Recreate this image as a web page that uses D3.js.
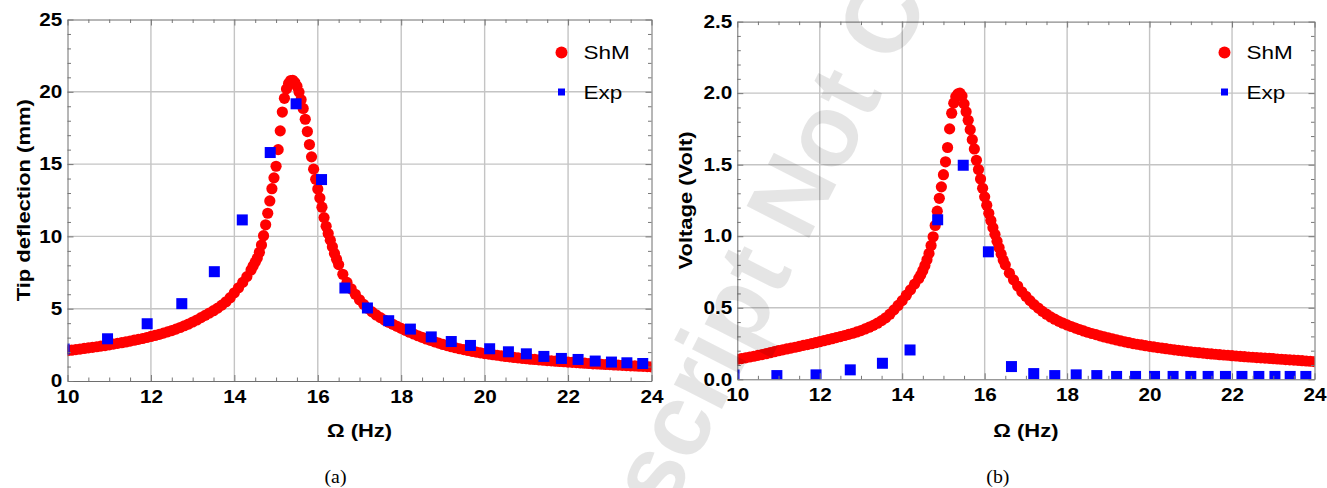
<!DOCTYPE html>
<html>
<head>
<meta charset="utf-8">
<script src="https://cdn.jsdelivr.net/npm/d3@7"></script>
<style>
  html, body { margin: 0; padding: 0; background: #fff; }
  svg { display: block; }
</style>
</head>
<body>
<svg id="chart" width="1327" height="488"></svg>
<script>
// Excitation frequencies (Hz) of the model curve
const shmFreq = [
  10.0,10.1,10.2,10.3,10.4,10.5,10.6,10.7,10.8,10.9,
  11.0,11.1,11.2,11.3,11.4,11.5,11.6,11.7,11.8,11.9,
  12.0,12.1,12.2,12.3,12.4,12.5,12.6,12.7,12.8,12.9,
  13.0,13.1,13.2,13.3,13.4,13.5,13.6,13.7,13.8,13.9,
  14.0,14.1,14.2,14.3,14.4,
  14.45,14.5,14.55,14.6,14.65,14.7,14.75,14.8,14.85,14.9,
  14.95,15.0,15.05,15.1,15.15,15.2,15.25,15.3,15.35,15.4,
  15.45,15.5,15.55,15.6,15.65,15.7,15.75,15.8,15.85,15.9,
  15.95,16.0,16.05,16.1,16.15,16.2,16.25,16.3,16.35,16.4,
  16.45,16.5,
  16.6,16.7,16.8,16.9,
  17.0,17.1,17.2,17.3,17.4,17.5,17.6,17.7,17.8,17.9,
  18.0,18.1,18.2,18.3,18.4,18.5,18.6,18.7,18.8,18.9,
  19.0,19.1,19.2,19.3,19.4,19.5,19.6,19.7,19.8,19.9,
  20.0,20.1,20.2,20.3,20.4,20.5,20.6,20.7,20.8,20.9,
  21.0,21.1,21.2,21.3,21.4,21.5,21.6,21.7,21.8,21.9,
  22.0,22.1,22.2,22.3,22.4,22.5,22.6,22.7,22.8,22.9,
  23.0,23.1,23.2,23.3,23.4,23.5,23.6,23.7,23.8,23.9,
  24.0
];

// ShM model: tip deflection (mm)
const shmTip = [
  2.10,2.13,2.17,2.21,2.25,2.29,2.33,2.37,2.41,2.45,
  2.50,2.55,2.60,2.65,2.70,2.76,2.82,2.88,2.94,3.01,
  3.08,3.15,3.23,3.31,3.40,3.49,3.59,3.70,3.82,3.94,
  4.08,4.22,4.38,4.54,4.70,4.86,5.04,5.25,5.48,5.76,
  6.10,6.45,6.82,7.22,7.68,
  7.95,8.22,8.50,8.90,9.40,10.05,10.80,11.60,12.45,13.30,
  14.05,14.85,16.00,17.30,18.60,19.55,20.20,20.58,20.78,20.80,
  20.64,20.38,19.98,19.45,18.85,18.10,17.25,16.35,15.50,14.65,
  13.95,13.28,12.65,12.02,11.30,10.70,10.20,9.74,9.28,8.82,
  8.42,8.05,
  7.38,6.82,6.38,6.00,
  5.62,5.30,5.02,4.78,4.57,4.38,4.21,4.06,3.92,3.78,
  3.64,3.50,3.37,3.25,3.13,3.02,2.91,2.81,2.71,2.62,
  2.53,2.45,2.37,2.30,2.23,2.17,2.11,2.05,2.00,1.95,
  1.90,1.86,1.82,1.78,1.74,1.70,1.67,1.63,1.60,1.57,
  1.54,1.51,1.49,1.46,1.44,1.41,1.39,1.37,1.35,1.33,
  1.31,1.29,1.27,1.25,1.23,1.21,1.19,1.18,1.16,1.14,
  1.13,1.11,1.10,1.08,1.07,1.05,1.04,1.02,1.01,1.00,
  0.98
];

// ShM model: output voltage (V)
const shmVolt = [
  0.140,0.145,0.150,0.156,0.161,0.167,0.173,0.179,0.186,0.193,
  0.200,0.206,0.212,0.218,0.224,0.230,0.237,0.243,0.249,0.256,
  0.263,0.270,0.277,0.284,0.291,0.298,0.306,0.314,0.322,0.331,
  0.340,0.352,0.364,0.377,0.392,0.410,0.430,0.455,0.485,0.516,
  0.550,0.588,0.625,0.665,0.705,
  0.730,0.760,0.795,0.835,0.880,0.935,0.996,1.075,1.175,1.265,
  1.345,1.430,1.520,1.620,1.750,1.860,1.930,1.975,1.995,2.000,
  1.980,1.925,1.870,1.810,1.745,1.675,1.610,1.531,1.466,1.400,
  1.335,1.275,1.217,1.160,1.110,1.060,1.013,0.965,0.920,0.875,
  0.833,0.800,
  0.742,0.695,0.652,0.612,
  0.580,0.550,0.522,0.498,0.475,0.455,0.436,0.420,0.405,0.392,
  0.380,0.369,0.358,0.348,0.338,0.329,0.320,0.312,0.304,0.296,
  0.289,0.282,0.275,0.268,0.262,0.256,0.250,0.245,0.240,0.235,
  0.230,0.226,0.222,0.218,0.214,0.210,0.206,0.202,0.199,0.196,
  0.192,0.189,0.186,0.183,0.180,0.177,0.175,0.172,0.170,0.168,
  0.165,0.163,0.160,0.158,0.156,0.154,0.152,0.150,0.148,0.146,
  0.144,0.142,0.140,0.138,0.136,0.134,0.132,0.130,0.128,0.126,
  0.124
];

// Measured frequencies (Hz)
const expFreq = [9.92, 10.96, 11.91, 12.74, 13.52, 14.19, 14.86, 15.48, 16.09, 16.65,
  17.19, 17.70, 18.22, 18.72, 19.20, 19.66, 20.12, 20.57, 21.00, 21.42,
  21.84, 22.24, 22.65, 23.04, 23.41, 23.79];
// Measured tip deflection (mm)
const expTip = [2.21, 2.92, 3.96, 5.35, 7.56, 11.14, 15.80, 19.17, 13.93, 6.43,
  5.05, 4.17, 3.59, 3.05, 2.73, 2.46, 2.23, 2.02, 1.88, 1.70,
  1.56, 1.49, 1.38, 1.31, 1.26, 1.21];
// Measured voltage (V)
const expVolt = [0.030, 0.026, 0.031, 0.066, 0.112, 0.205, 1.115, 1.496, 0.891, 0.089,
  0.040, 0.026, 0.031, 0.026, 0.020, 0.020, 0.020, 0.020, 0.020, 0.020,
  0.020, 0.020, 0.020, 0.020, 0.020, 0.020];

// Axis tick values
const xTicks = [10, 12, 14, 16, 18, 20, 22, 24];
const tipTicks = [0, 5, 10, 15, 20, 25];
const voltTicks = [0, 0.5, 1.0, 1.5, 2.0, 2.5];
const legendLabels = ["ShM", "Exp"];

const svg = d3.select("#chart");
const FONT = "'Liberation Sans', Arial, Helvetica, sans-serif";
const SERIF = "'Liberation Serif', 'Times New Roman', serif";

const panels = [
  {
    key: "a", box: { left: 67.5, right: 651.5, top: 19.5, bottom: 381 },
    yDomain: [0, 25], yTicks: tipTicks, yMinor: 1, yFmt: d3.format("d"),
    yTitle: "Tip deflection (mm)", yTitleX: 29.5,
    shm: shmTip, exp: expTip, caption: "(a)"
  },
  {
    key: "b", box: { left: 737.3, right: 1314.5, top: 21.6, bottom: 379.3 },
    yDomain: [0, 2.5], yTicks: voltTicks, yMinor: 0.1, yFmt: d3.format(".1f"),
    yTitle: "Voltage (Volt)", yTitleX: 692,
    shm: shmVolt, exp: expVolt, caption: "(b)"
  }
];

function stretchedText(g, x, y, txt, opts) {
  const o = Object.assign({ size: 18, weight: "bold", sx: 1.15, rot: 0, anchor: "middle", family: FONT }, opts || {});
  return g.append("text")
    .attr("transform", `translate(${x},${y}) rotate(${o.rot}) scale(${o.sx},1)`)
    .attr("text-anchor", o.anchor)
    .attr("font-family", o.family)
    .attr("font-size", o.size)
    .attr("font-weight", o.weight)
    .attr("fill", "#000")
    .text(txt);
}

panels.forEach(p => {
  const b = p.box;
  const x = d3.scaleLinear().domain([10, 24]).range([b.left, b.right]);
  const y = d3.scaleLinear().domain(p.yDomain).range([b.bottom, b.top]);
  const g = svg.append("g").attr("class", "panel-" + p.key);

  const xMinor = d3.range(10, 24.0001, 0.5).filter(v => Math.abs(v % 2) > 1e-6);
  const yMinor = d3.range(p.yDomain[0], p.yDomain[1] + 1e-6, p.yMinor)
    .filter(v => !p.yTicks.some(t => Math.abs(t - v) < 1e-6));

  // grid lines
  const grid = g.append("g").attr("stroke", "#c4c4c4").attr("stroke-width", 1.4);
  xTicks.slice(1, -1).forEach(t => {
    grid.append("line").attr("x1", x(t)).attr("x2", x(t)).attr("y1", b.top).attr("y2", b.bottom);
  });
  p.yTicks.slice(1, -1).forEach(t => {
    grid.append("line").attr("x1", b.left).attr("x2", b.right).attr("y1", y(t)).attr("y2", y(t));
  });

  // data, clipped to the frame
  const clipId = "clip-" + p.key;
  svg.append("clipPath").attr("id", clipId).append("rect")
    .attr("x", b.left).attr("y", b.top).attr("width", b.right - b.left).attr("height", b.bottom - b.top);
  const data = g.append("g").attr("clip-path", `url(#${clipId})`);

  data.append("g").selectAll("circle")
    .data(shmFreq.map((f, i) => [f, p.shm[i]]))
    .join("circle")
    .attr("cx", d => x(d[0])).attr("cy", d => y(d[1])).attr("r", 5.6)
    .attr("fill", "#ff0000");

  const sq = 11;
  data.append("g").selectAll("rect")
    .data(expFreq.map((f, i) => [f, p.exp[i]]))
    .join("rect")
    .attr("x", d => x(d[0]) - sq / 2).attr("y", d => y(d[1]) - sq / 2)
    .attr("width", sq).attr("height", sq)
    .attr("fill", "#0000ff");

  // frame with inward ticks on all four sides
  const sides = [
    { ctor: d3.axisBottom, s: x, tr: `translate(0,${b.bottom})`, major: xTicks, minor: xMinor, labels: true, isX: true },
    { ctor: d3.axisTop, s: x, tr: `translate(0,${b.top})`, major: xTicks, minor: xMinor, labels: false, isX: true },
    { ctor: d3.axisLeft, s: y, tr: `translate(${b.left},0)`, major: p.yTicks, minor: yMinor, labels: true, isX: false },
    { ctor: d3.axisRight, s: y, tr: `translate(${b.right},0)`, major: p.yTicks, minor: yMinor, labels: false, isX: false }
  ];
  sides.forEach(a => {
    const minorG = g.append("g").attr("transform", a.tr)
      .call(a.ctor(a.s).tickValues(a.minor).tickSizeInner(-3.5).tickSizeOuter(0).tickFormat(""));
    minorG.select(".domain").remove();
    minorG.selectAll("line").attr("stroke", "#777");

    const majorAx = a.ctor(a.s).tickValues(a.major).tickSizeInner(-6).tickSizeOuter(0)
      .tickPadding(a.isX ? 9 : 4.5)
      .tickFormat(a.labels ? (a.isX ? d3.format("d") : p.yFmt) : "");
    const majorG = g.append("g").attr("transform", a.tr).call(majorAx);
    majorG.select(".domain").attr("stroke", "#6e6e6e").attr("stroke-width", 1);
    majorG.selectAll("line").attr("stroke", "#777");
    majorG.selectAll("text")
      .attr("font-family", FONT).attr("font-size", 18).attr("font-weight", "bold")
      .attr("fill", "#000")
      .attr("transform", "scale(1.15,1)");
  });

  // axis titles
  stretchedText(g, (b.left + b.right) / 2, 437, "Ω (Hz)", { sx: 1.22 });
  stretchedText(g, p.yTitleX, (b.top + b.bottom) / 2, p.yTitle, { sx: 1.22, rot: -90 });

  // caption
  stretchedText(g, (b.left + b.right) / 2 - 24 + (p.key === "b" ? -4 : 0), 483, p.caption,
    { family: SERIF, weight: "normal", size: 18, sx: 1.1 });

  // legend
  const lg = g.append("g");
  const lx = b.right - 90;
  lg.append("circle").attr("cx", lx).attr("cy", 52.5).attr("r", 6).attr("fill", "#ff0000");
  lg.append("rect").attr("x", lx - 3.5).attr("y", 92 - 3.5).attr("width", 7).attr("height", 7).attr("fill", "#0000ff");
  stretchedText(lg, lx + 22, 59, legendLabels[0], { weight: "normal", sx: 1.25, anchor: "start" });
  stretchedText(lg, lx + 22, 98.5, legendLabels[1], { weight: "normal", sx: 1.25, anchor: "start" });
});

// light diagonal watermark over the figure
const wm = svg.append("g").attr("transform", "translate(806,244) rotate(-63)")
  .attr("font-family", FONT).attr("font-weight", "bold").attr("font-size", 102)
  .attr("fill", "#000").attr("fill-opacity", 0.1);
wm.append("text").attr("x", -28).attr("text-anchor", "end").text("Accepted Manuscript");
wm.append("text").attr("x", 0).attr("text-anchor", "start").text("Not Copyedited");
</script>
</body>
</html>
